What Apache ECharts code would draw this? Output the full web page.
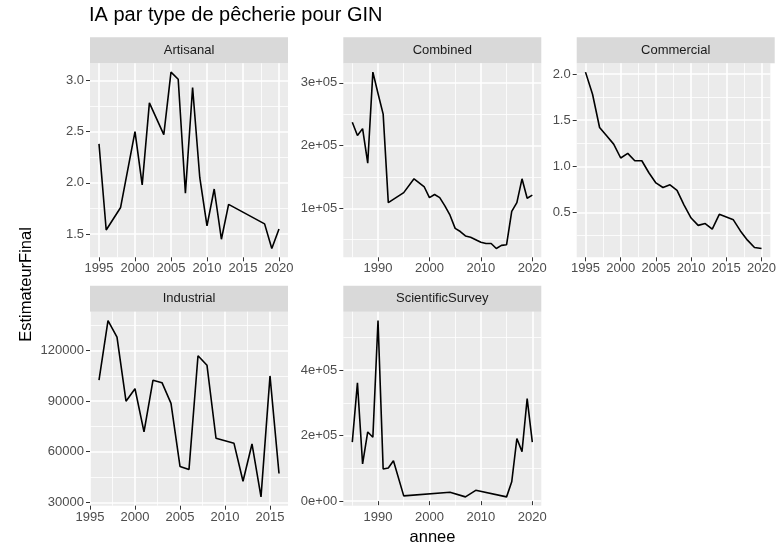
<!DOCTYPE html>
<html>
<head>
<meta charset="utf-8">
<title>IA par type de pêcherie pour GIN</title>
<script src="https://cdn.jsdelivr.net/npm/echarts@6/dist/echarts.min.js"></script>
<style>
  html, body { margin: 0; padding: 0; background: #fff; }
  #main { width: 779px; height: 549px; }
</style>
</head>
<body>
<div id="main"></div>
<script>
  // valeurs
  var artYears = [1995, 1996, 1998, 2000, 2001, 2002, 2004, 2005, 2006, 2007, 2008, 2009, 2010, 2011, 2012, 2013, 2018, 2019, 2020];
  var artVals  = [2.38, 1.54, 1.76, 2.50, 1.98, 2.78, 2.47, 3.08, 3.01, 1.90, 2.93, 2.05, 1.58, 1.94, 1.45, 1.79, 1.60, 1.36, 1.55];

  var comYears = [1985, 1986, 1987, 1988, 1989, 1990, 1991, 1992, 1995, 1997, 1999, 2000, 2001, 2002, 2003, 2004, 2005, 2006, 2007, 2008, 2009, 2010, 2011, 2012, 2013, 2014, 2015, 2016, 2017, 2018, 2019, 2020];
  var comVals  = [237000, 216000, 227000, 172000, 317000, 283000, 250000, 109000, 125000, 147000, 134000, 117000, 122000, 117000, 104000, 89000, 68000, 63000, 56000, 54000, 50000, 46000, 44000, 44000, 36000, 41000, 42000, 95000, 109000, 147000, 116000, 121000];

  var cmlYears = [1995, 1996, 1997, 1998, 1999, 2000, 2001, 2002, 2003, 2004, 2005, 2006, 2007, 2008, 2009, 2010, 2011, 2012, 2013, 2014, 2015, 2016, 2017, 2018, 2019, 2020];
  var cmlVals  = [2.02, 1.78, 1.42, 1.33, 1.24, 1.09, 1.14, 1.06, 1.06, 0.93, 0.82, 0.77, 0.80, 0.74, 0.58, 0.44, 0.36, 0.38, 0.32, 0.48, 0.45, 0.42, 0.30, 0.20, 0.12, 0.11];

  var indYears = [1996, 1997, 1998, 1999, 2000, 2001, 2002, 2003, 2004, 2005, 2006, 2007, 2008, 2009, 2010, 2011, 2012, 2013, 2014, 2015, 2016];
  var indVals  = [102500, 137900, 128000, 90000, 97400, 71800, 102500, 101000, 88700, 51300, 49500, 117000, 111300, 68000, 66500, 65000, 42500, 64600, 33200, 105000, 47100];

  var sciYears = [1985, 1986, 1987, 1988, 1989, 1990, 1991, 1992, 1993, 1995, 2004, 2007, 2009, 2015, 2016, 2017, 2018, 2019, 2020];
  var sciVals  = [180000, 361000, 113500, 211000, 195000, 551000, 98000, 101000, 123000, 16000, 27000, 13000, 33000, 13000, 59000, 191000, 151000, 313000, 180000];

  // graduations (majeures / mineures)
  var x5Major  = [1995, 2000, 2005, 2010, 2015, 2020];
  var x5Minor  = [1992.5, 1997.5, 2002.5, 2007.5, 2012.5, 2017.5, 2022.5];
  var x10Major = [1980, 1990, 2000, 2010, 2020];
  var x10Minor = [1985, 1995, 2005, 2015];

  var artYMajor = [1.5, 2.0, 2.5, 3.0];
  var artYMinor = [1.25, 1.75, 2.25, 2.75, 3.25];
  var comYMajor = [100000, 200000, 300000];
  var comYMinor = [50000, 150000, 250000, 350000];
  var cmlYMajor = [0.5, 1.0, 1.5, 2.0];
  var cmlYMinor = [0.25, 0.75, 1.25, 1.75];
  var indYMajor = [30000, 60000, 90000, 120000];
  var indYMinor = [45000, 75000, 105000, 135000];
  var sciYMajor = [0, 200000, 400000];
  var sciYMinor = [100000, 300000, 500000];

  var FONT = "'Liberation Sans', Arial, sans-serif";

  // étendue ggplot : +5% de chaque côté
  function expand(arr) {
    var lo = Math.min.apply(null, arr), hi = Math.max.apply(null, arr);
    var d = (hi - lo) * 0.05;
    return [lo - d, hi + d];
  }
  function fmtYear(v) { return String(Math.round(v)); }
  function fmtDec(v) { return v.toFixed(1); }
  function fmtInt(v) { return String(Math.round(v)); }
  function fmtSci(v) {
    var s = v.toExponential(0);           // "2e+5"
    var m = s.split('e');
    var ex = parseInt(m[1], 10);
    var sign = ex < 0 ? '-' : '+';
    ex = Math.abs(ex);
    return m[0] + 'e' + sign + (ex < 10 ? '0' + ex : ex);
  }

  var panels = [
    { name: 'Artisanal',        years: artYears, vals: artVals, xMajor: x5Major,  xMinor: x5Minor,  yMajor: artYMajor, yMinor: artYMinor, fmt: fmtDec, left: 90,    top: 63.3 },
    { name: 'Combined',         years: comYears, vals: comVals, xMajor: x10Major, xMinor: x10Minor, yMajor: comYMajor, yMinor: comYMinor, fmt: fmtSci, left: 343.3, top: 63.3 },
    { name: 'Commercial',       years: cmlYears, vals: cmlVals, xMajor: x5Major,  xMinor: x5Minor,  yMajor: cmlYMajor, yMinor: cmlYMinor, fmt: fmtDec, left: 576.7, top: 63.3 },
    { name: 'Industrial',       years: indYears, vals: indVals, xMajor: x5Major,  xMinor: x5Minor,  yMajor: indYMajor, yMinor: indYMinor, fmt: fmtInt, left: 90,    top: 311.7 },
    { name: 'ScientificSurvey', years: sciYears, vals: sciVals, xMajor: x10Major, xMinor: x10Minor, yMajor: sciYMajor, yMinor: sciYMinor, fmt: fmtSci, left: 343.3, top: 311.7 }
  ];
  var PW = 198, PH = 194, STRIP = 26;

  var grids = [], xAxes = [], yAxes = [], series = [], graphics = [];

  panels.forEach(function (p, i) {
    var xr = expand(p.years), yr = expand(p.vals);
    grids.push({
      left: p.left, top: p.top, width: PW, height: PH,
      show: true, backgroundColor: '#EBEBEB', borderWidth: 0
    });
    // axes principaux (graduations + grille majeure)
    xAxes.push({
      type: 'value', gridIndex: i, min: xr[0], max: xr[1],
      axisLine: { show: false },
      axisTick: { show: true, length: 4, customValues: p.xMajor, lineStyle: { color: '#333333', width: 1 } },
      axisLabel: { customValues: p.xMajor, color: '#4D4D4D', fontSize: 13, fontFamily: FONT, margin: 5, formatter: fmtYear },
      splitLine: { show: true, lineStyle: { color: '#FFFFFF', width: 1.6 } }
    });
    yAxes.push({
      type: 'value', gridIndex: i, min: yr[0], max: yr[1],
      axisLine: { show: false },
      axisTick: { show: true, length: 4, customValues: p.yMajor, lineStyle: { color: '#333333', width: 1 } },
      axisLabel: { customValues: p.yMajor, color: '#4D4D4D', fontSize: 13, fontFamily: FONT, margin: 6, formatter: p.fmt },
      splitLine: { show: true, lineStyle: { color: '#FFFFFF', width: 1.6 } }
    });
    series.push({
      type: 'line', xAxisIndex: i, yAxisIndex: i,
      data: p.years.map(function (y, k) { return [y, p.vals[k]]; }),
      showSymbol: false, silent: true, z: 5,
      lineStyle: { color: '#000000', width: 1.6 }
    });
    // bandeau du facet
    graphics.push({
      type: 'rect', silent: true,
      shape: { x: p.left, y: p.top - STRIP, width: PW, height: STRIP },
      style: { fill: '#D9D9D9' }
    });
    graphics.push({
      type: 'text', silent: true, x: p.left + PW / 2, y: p.top - STRIP / 2,
      style: { text: p.name, fill: '#1A1A1A', font: '13px ' + FONT, textAlign: 'center', textVerticalAlign: 'middle' }
    });
  });

  // axes secondaires : grille mineure
  panels.forEach(function (p, i) {
    var xr = expand(p.years), yr = expand(p.vals);
    xAxes.push({
      type: 'value', gridIndex: i, min: xr[0], max: xr[1],
      axisLine: { show: false }, axisLabel: { show: false },
      axisTick: { show: false, customValues: p.xMinor },
      splitLine: { show: true, lineStyle: { color: '#FFFFFF', width: 0.8 } }
    });
    yAxes.push({
      type: 'value', gridIndex: i, min: yr[0], max: yr[1],
      axisLine: { show: false }, axisLabel: { show: false },
      axisTick: { show: false, customValues: p.yMinor },
      splitLine: { show: true, lineStyle: { color: '#FFFFFF', width: 0.8 } }
    });
  });

  graphics.push({
    type: 'text', silent: true, x: 26, y: 284.5, rotation: Math.PI / 2,
    style: { text: 'EstimateurFinal', fill: '#000', font: '16.5px ' + FONT, textAlign: 'center', textVerticalAlign: 'middle' }
  });
  graphics.push({
    type: 'text', silent: true, x: 432.5, y: 537.5,
    style: { text: 'annee', fill: '#000', font: '16.5px ' + FONT, textAlign: 'center', textVerticalAlign: 'middle' }
  });

  var chart = echarts.init(document.getElementById('main'), null, { renderer: 'canvas' });
  chart.setOption({
    animation: false,
    backgroundColor: '#FFFFFF',
    title: {
      text: 'IA par type de pêcherie pour GIN',
      left: 89, top: 5, padding: 0,
      textStyle: { fontFamily: FONT, fontSize: 20, fontWeight: 'normal', color: '#000' }
    },
    grid: grids,
    xAxis: xAxes,
    yAxis: yAxes,
    series: series,
    graphic: graphics
  });
</script>
</body>
</html>
